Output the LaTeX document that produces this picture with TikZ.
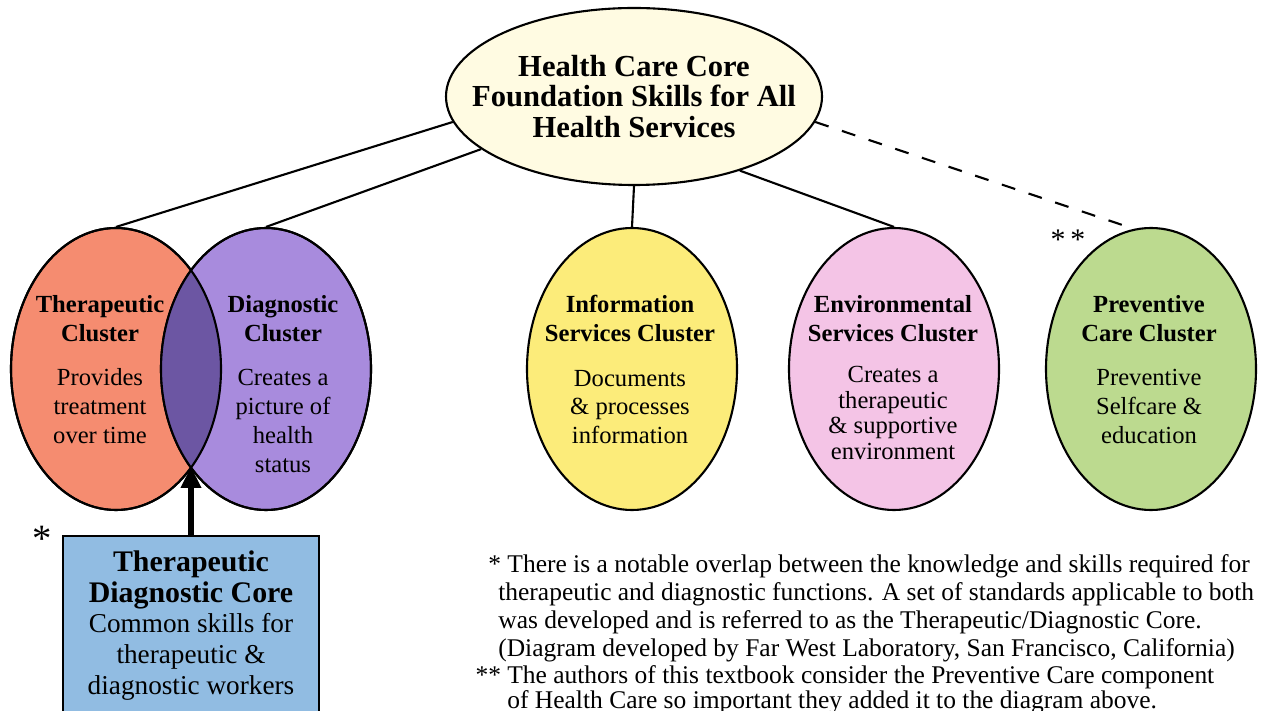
\documentclass[tikz,border=0pt]{standalone}
\usepackage{fontspec}
\setmainfont{Liberation Serif}
\newfontfamily\notefont{Liberation Serif}
\usetikzlibrary{shapes.geometric, arrows.meta, positioning}
\definecolor{cCream}{RGB}{255,251,226}
\definecolor{cSalmon}{RGB}{245,140,112}
\definecolor{cLilac}{RGB}{168,139,221}
\definecolor{cLens}{RGB}{108,86,163}
\definecolor{cYellow}{RGB}{252,236,122}
\definecolor{cPink}{RGB}{244,196,230}
\definecolor{cLime}{RGB}{188,218,143}
\definecolor{cSky}{RGB}{145,188,226}
\tikzset{
	cluster/.style ={ellipse, draw=black, line width=1.2pt, minimum width=4.2cm, minimum height=5.64cm, inner sep=0pt},
	clustxt/.style ={anchor=north, align=center, inner sep=0pt, font=\fontsize{14}{16.4}\selectfont},
	rootbox/.style ={ellipse, draw=black, line width=1.2pt, fill=cCream, minimum width=7.52cm, minimum height=3.54cm, inner sep=0pt},
	corebox/.style ={rectangle, draw=black, line width=1.2pt, fill=cSky, minimum width=5.12cm, minimum height=3.9cm, anchor=north},
	link/.style    ={line width=1.2pt},
	corearrow/.style={-{Triangle[length=12pt, width=11pt]}, line width=3.3pt},
	starmark/.style={inner sep=0pt, font=\fontsize{22}{22}\selectfont},
	note/.style    ={anchor=north west, align=left, inner sep=0pt, font=\notefont\fontsize{14.5}{15.9}\selectfont},
}
\newcommand\hd[1]{\textbf{#1}}
\newcommand\corehd[1]{{\fontsize{17}{17.6}\selectfont\bfseries #1}}

\begin{document}
\begin{tikzpicture}
	\useasboundingbox (0,0) rectangle (25.24,14.2);

	% top of the tree
	\node[rootbox] (top) at (12.68,12.27) {};
	\node[align=center, inner sep=0pt, font=\fontsize{17.4}{17.2}\selectfont\bfseries] (top-txt) at (top.center)
		{Health Care Core\\Foundation Skills for All\\Health Services};

	% the five clusters
	\node[cluster, fill=cSalmon] (ther) at (2.32,6.82) {};
	\node[cluster, fill=cLilac] (diag) at (5.32,6.82) {};
	\node[cluster, fill=cYellow] (info) at (12.64,6.82) {};
	\node[cluster, fill=cPink] (env) at (17.88,6.82) {};
	\node[cluster, fill=cLime] (prev) at (23.02,6.82) {};

	% shared part of therapeutic and diagnostic
	\begin{scope}
		\clip (ther.center) ellipse [x radius=2.1cm, y radius=2.82cm];
		\fill[cLens] (diag.center) ellipse [x radius=2.1cm, y radius=2.82cm];
	\end{scope}
	\draw[link] (ther.center) ellipse [x radius=2.1cm, y radius=2.82cm];
	\draw[link] (diag.center) ellipse [x radius=2.1cm, y radius=2.82cm];

	\node[clustxt] (ther-txt) at (2.0,8.30) {\hd{Therapeutic}\\\hd{Cluster}\\[9pt]Provides\\treatment\\over time};
	\node[clustxt] (diag-txt) at (5.66,8.30) {\hd{Diagnostic}\\\hd{Cluster}\\[9pt]Creates a\\picture of\\health\\status};
	\node[clustxt] (info-txt) at (12.6,8.30) {\hd{Information}\\\hd{Services Cluster}\\[9pt]Documents\\\& processes\\information};
	\node[clustxt] (env-txt) at (17.86,8.30) {\hd{Environmental}\\\hd{Services Cluster}\\[7pt]Creates a\\[-1.8pt]therapeutic\\[-1.8pt]\& supportive\\[-1.8pt]environment};
	\node[clustxt] (prev-txt) at (22.98,8.30) {\hd{Preventive}\\\hd{Care Cluster}\\[9pt]Preventive\\Selfcare \&\\education};

	\draw[link] (top.188) -- (ther.north);
	\draw[link] (top.199) -- (diag.north);
	\draw[link] (top.south) -- (info.north);
	\draw[link] (top.325) -- (env.north);
	\draw[link, dash pattern=on 8pt off 8pt] (top.352) -- (prev.97);

	% core box under the overlap
	\node[corebox] (core) at (3.82,3.5) {};
	\node[align=center, anchor=north, inner sep=0pt, font=\fontsize{15.5}{17.6}\selectfont] (core-txt) at (3.82,3.2)
		{\corehd{Therapeutic}\\\corehd{Diagnostic Core}\\Common skills for\\therapeutic \&\\diagnostic workers};
	\coordinate (lens) at (3.82,4.866);
	\draw[corearrow] (core.north) -- (lens);

	\node[starmark] (star1) at (0.84,3.42) {*};
	\node[starmark, font=\fontsize{17}{17}\selectfont] (star2) at (21.36,9.40) {*\,*};

	% footnotes
	\node[note] (note1) at (9.96,3.12)
		{\hspace*{-5.7pt}* There is a notable overlap between the knowledge and skills required for\\
		therapeutic and diagnostic functions. A set of standards applicable to both\\
		was developed and is referred to as the Therapeutic/Diagnostic Core.\\
		(Diagram developed by Far West Laboratory, San Francisco, California)};
	\node[note, font=\notefont\fontsize{14.5}{14.6}\selectfont] (note2) at (10.14,0.90)
		{\llap{** }The authors of this textbook consider the Preventive Care component\\
		of Health Care so important they added it to the diagram above.};
\end{tikzpicture}
\end{document}
